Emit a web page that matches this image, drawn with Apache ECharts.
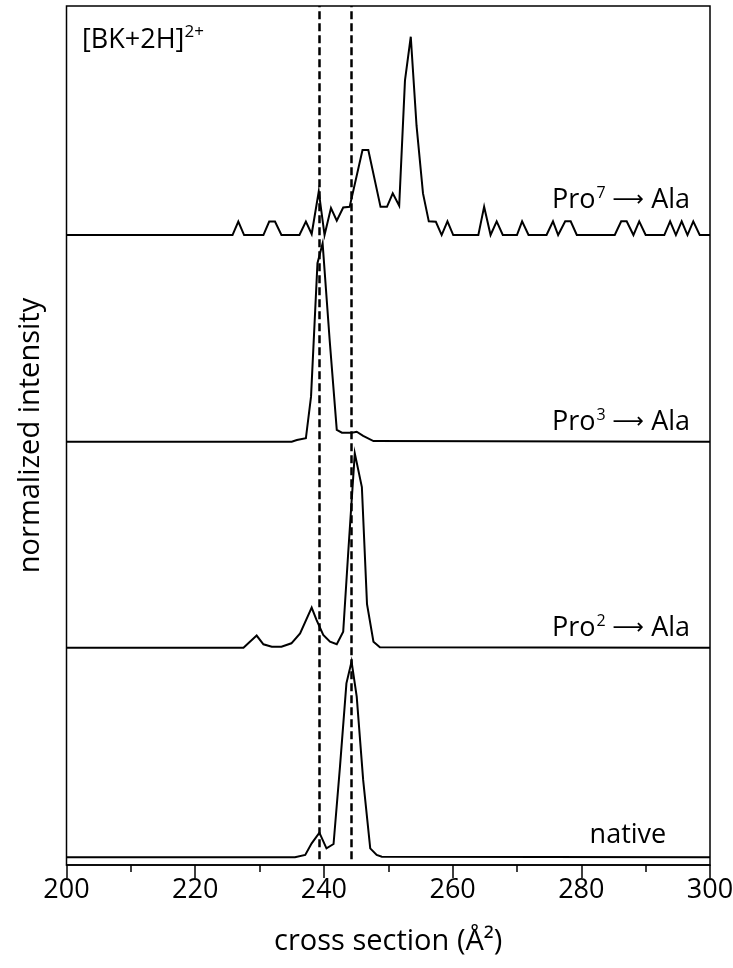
<!DOCTYPE html>
<html><head><meta charset="utf-8">
<style>html,body{margin:0;padding:0;background:#fff}#c{width:733px;height:968px}</style>
<script src="https://cdn.jsdelivr.net/npm/echarts@6/dist/echarts.min.js"></script>
</head><body><div id="c"></div>
<script>
const FONT = "'Open Sans', 'DejaVu Sans', sans-serif";

// axis ranges / ticks
const xMin = 200, xMax = 300, xStep = 20;
const yMin = 0, yMax = 433.2;
const xTitle = 'cross section (Å²)';
const yTitle = 'normalized intensity';

// vertical reference lines (cross section, Å²)
const refLines = [239.3, 244.3];

// stacking offsets of each trace (same units as intensity, peak ≈ 100)
const offsets = { native: 3.9, pro2: 109.6, pro3: 213.5, pro7: 317.7 };

// native
const nativeX = [200, 235.5, 237.1, 238.1, 239.3, 240.4, 241.5, 242.5, 243.5, 244.3, 245.1, 246.1, 247.2, 248.2, 249.0, 300];
const nativeY = [0, 0, 1.2, 7, 12.4, 4.5, 6.7, 45.7, 87.7, 98.7, 81, 39, 4.5, 1.2, 0.3, 0];

// Pro2 -> Ala
const pro2X = [200, 227.5, 229.55, 230.6, 231.9, 233.4, 234.95, 236.3, 238.1, 238.85, 239.9, 240.95, 242.0, 243.0, 243.8, 244.8, 245.9, 246.7, 247.7, 248.7, 300];
const pro2Y = [0, 0, 6.1, 1.7, 0.5, 0.5, 2.2, 7.2, 20.2, 14, 6.4, 3.0, 1.7, 8, 49, 98, 81, 22, 3, 0.2, 0];

// Pro3 -> Ala
const pro3X = [200, 235.0, 235.8, 237.2, 238.0, 239.0, 239.8, 240.9, 242.0, 242.8, 244.35, 245.1, 246.1, 247.7, 300];
const pro3Y = [0, 0, 0.8, 1.7, 22.7, 90, 100, 51, 5.9, 4.5, 4.5, 5, 2.9, 0.3, 0];

// Pro7 -> Ala
const pro7X = [200, 225.8, 226.7, 227.6, 230.6, 231.5, 232.4, 233.4, 236.2, 237.2, 238.1, 239.2, 240.1, 241.1, 242.0, 243.0, 244.0, 246.0, 246.9, 248.8, 249.8, 250.7, 251.7, 252.6, 253.5, 254.4, 255.4, 256.3, 257.4, 258.3, 259.2, 260.1, 264.0, 264.9, 265.9, 266.85, 267.8, 270.0, 270.8, 271.8, 274.6, 275.6, 276.4, 277.5, 278.35, 279.3, 285.2, 286.2, 287.05, 288.1, 289.0, 290.0, 292.9, 293.8, 294.7, 295.6, 296.5, 297.4, 298.4, 300];
const pro7Y = [0, 0, 6.8, 0, 0, 6.8, 6.8, 0, 0, 6.8, 0.5, 22, 0, 13.6, 7.2, 13.9, 14.2, 42.9, 42.9, 14.2, 14.2, 21, 14.8, 78, 100, 55, 21, 6.9, 6.7, 0, 6.9, 0, 0, 14.3, 0, 6.9, 0, 0, 6.9, 0, 0, 6.9, 0, 6.9, 6.9, 0, 0, 6.9, 6.9, 0, 6.9, 0, 0, 6.9, 0, 6.9, 0, 6.9, 0, 0];

function build(xs, ys, off) { return xs.map((x, i) => [x, ys[i] + off]); }

const traces = [
  { name: 'native', xs: nativeX, ys: nativeY, off: offsets.native },
  { name: 'Pro2', xs: pro2X, ys: pro2Y, off: offsets.pro2 },
  { name: 'Pro3', xs: pro3X, ys: pro3Y, off: offsets.pro3 },
  { name: 'Pro7', xs: pro7X, ys: pro7Y, off: offsets.pro7 }
];

const chart = echarts.init(document.getElementById('c'), null, { renderer: 'canvas' });

const series = traces.map((t, i) => ({
  type: 'line', name: t.name, data: build(t.xs, t.ys, t.off),
  showSymbol: false, symbol: 'none', silent: true, animation: false,
  lineStyle: { color: '#000', width: 2, join: 'miter' },
  z: 3,
  markLine: i === 0 ? {
    silent: true, symbol: 'none', animation: false,
    label: { show: false },
    lineStyle: { color: '#000', width: 2.5, type: [8, 4] },
    data: refLines.map(x => [{ coord: [x, offsets.native - 1] }, { coord: [x, yMax] }])
  } : undefined
}));

chart.setOption({
  animation: false,
  backgroundColor: '#fff',
  grid: { left: 66.5, right: 23, top: 6, bottom: 103, show: true, borderColor: '#000', borderWidth: 1.5, backgroundColor: 'transparent', containLabel: false, outerBoundsMode: 'none' },
  xAxis: {
    type: 'value', min: xMin, max: xMax, interval: xStep,
    axisLine: { show: true, onZero: false, lineStyle: { color: '#000', width: 1.5 } },
    axisTick: { show: true, length: 13, lineStyle: { color: '#000', width: 1.5 } },
    minorTick: { show: true, splitNumber: 2, length: 7, lineStyle: { color: '#000', width: 1.5 } },
    splitLine: { show: false }, minorSplitLine: { show: false },
    axisLabel: { color: '#000', fontSize: 27, fontFamily: FONT, margin: 12 },
    name: xTitle, nameLocation: 'middle', nameGap: 62,
    nameTextStyle: { color: '#000', fontSize: 29, fontFamily: FONT }
  },
  yAxis: {
    type: 'value', min: yMin, max: yMax,
    axisLine: { show: false }, axisTick: { show: false }, axisLabel: { show: false },
    splitLine: { show: false },
    name: yTitle, nameLocation: 'middle', nameGap: 21,
    nameTextStyle: { color: '#000', fontSize: 29, fontFamily: FONT }
  },
  series
});

// annotation texts placed in data coordinates
const supStyle = { fontSize: 16, fontFamily: FONT, color: '#000', verticalAlign: 'top', lineHeight: 30, padding: [0, 0, 0, 1] };
const baseStyle = { fontSize: 27, fontFamily: FONT, color: '#000', lineHeight: 30 };
const arrowStyle = { fontSize: 22, fontFamily: "'DejaVu Sans', sans-serif", color: '#000', lineHeight: 30 };
const annotations = [
  { text: '{a|Pro}{s|7}{a| }{r|⟶}{a| Ala}', x: 296.9, y: offsets.pro7 + 13.5 },
  { text: '{a|Pro}{s|3}{a| }{r|⟶}{a| Ala}', x: 296.9, y: offsets.pro3 + 5.9 },
  { text: '{a|Pro}{s|2}{a| }{r|⟶}{a| Ala}', x: 296.9, y: offsets.pro2 + 5.5 },
  { text: '{a|native}', x: 293.2, y: offsets.native + 7.1 }
];
const graphics = annotations.map(a => {
  const p = chart.convertToPixel({ gridIndex: 0 }, [a.x, a.y]);
  return {
    type: 'text', x: p[0], y: p[1] - 8, z: 10, silent: true,
    style: { text: a.text, align: 'right', verticalAlign: 'middle', rich: { a: baseStyle, s: supStyle, r: arrowStyle } }
  };
});
graphics.push({
  type: 'text', x: 82, y: 40, z: 10, silent: true,
  style: { text: '{a|[BK+2H]}{s|2+}', align: 'left', verticalAlign: 'middle',
    rich: { a: { fontSize: 27, fontFamily: FONT, color: '#000', lineHeight: 32 }, s: { fontSize: 17, fontFamily: FONT, color: '#000', verticalAlign: 'top', lineHeight: 32 } } }
});
chart.setOption({ graphic: graphics });
</script>
</body></html>
